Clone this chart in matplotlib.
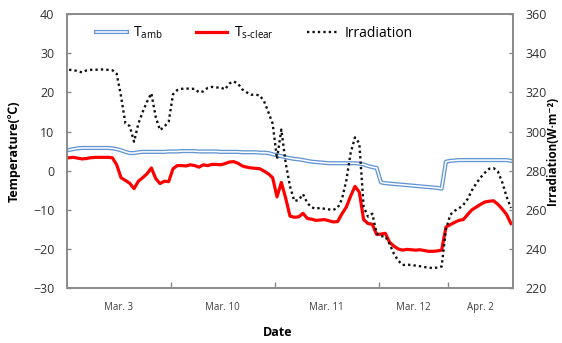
import numpy as np
import matplotlib
matplotlib.use("Agg")
import matplotlib.pyplot as plt
from matplotlib.lines import Line2D

plt.rcParams['font.family'] = ['Open Sans', 'Noto Sans CJK KR', 'DejaVu Sans']

# Day groups on the category axis and the number of samples in each
days = ["Mar. 3", "Mar. 10", "Mar. 11", "Mar. 12", "Apr. 2"]
samples_per_day = [24, 24, 24, 16, 15]

# Ambient temperature (°C)
t_amb = [
    5.3, 5.5, 5.7, 5.8, 5.8, 5.8, 5.8, 5.8, 5.8, 5.8, 5.7, 5.5, 5.2, 4.8, 4.5, 4.5,
    4.7, 4.8, 4.8, 4.8, 4.8, 4.8, 4.8, 4.9,
    4.9, 4.9, 5.0, 5.0, 5.0, 5.0, 4.9, 4.9, 4.9, 4.9, 4.9, 4.8, 4.8, 4.8, 4.8, 4.8,
    4.7, 4.7, 4.7, 4.7, 4.6, 4.6, 4.5, 4.2,
    3.9, 3.7, 3.4, 3.2, 3.0, 2.9, 2.7, 2.5, 2.3, 2.2, 2.1, 2.0, 1.9, 1.9, 1.9, 1.9,
    1.9, 1.9, 1.9, 1.8, 1.6, 1.2, 0.9, 0.7,
    -3.0, -3.2, -3.3, -3.4, -3.5, -3.6, -3.7, -3.8, -3.9, -4.0, -4.1, -4.2, -4.3, -4.4,
    -4.6, 2.3,
    2.5, 2.6, 2.7, 2.7, 2.7, 2.7, 2.7, 2.7, 2.7, 2.7, 2.7, 2.7, 2.7, 2.7, 2.5,
]

# Clear-sky surface temperature (°C)
t_s_clear = [
    3.3, 3.4, 3.2, 3.0, 3.1, 3.3, 3.4, 3.4, 3.4, 3.4, 3.3, 1.5, -1.8, -2.5, -3.2, -4.6,
    -2.7, -1.8, -0.8, 0.7, -2.0, -3.3, -2.7, -2.8,
    0.5, 1.3, 1.3, 1.2, 1.5, 1.3, 0.9, 1.5, 1.3, 1.6, 1.6, 1.5, 1.8, 2.2, 2.3, 1.9,
    1.2, 0.9, 0.7, 0.6, 0.5, -0.1, -0.8, -1.8,
    -6.7, -3.0, -7.0, -11.6, -11.9, -11.8, -10.9, -12.2, -12.4, -12.7, -12.6, -12.5,
    -12.8, -13.1, -13.0, -11.0, -9.3, -6.5, -4.0, -5.5, -12.5, -13.5, -13.7, -16.3,
    -16.2, -16.0, -18.3, -19.3, -20.0, -20.3, -20.1, -20.2, -20.3, -20.2, -20.4, -20.6,
    -20.6, -20.5, -20.3, -14.4,
    -13.8, -13.2, -12.7, -12.5, -11.2, -10.0, -9.3, -8.6, -8.0, -7.8, -7.7, -8.6,
    -9.8, -11.2, -13.5,
]

# Solar irradiation (W·m-2)
irradiation = [
    331.5, 331.4, 330.8, 330.2, 331.2, 331.5, 331.5, 331.7, 331.7, 331.5, 331.3, 329.5,
    318.0, 304.2, 302.8, 294.8, 304.0, 310.0, 315.2, 319.5, 307.5, 300.7, 302.5, 305.0,
    319.0, 321.2, 321.8, 322.0, 321.8, 321.8, 320.0, 320.5, 322.3, 322.8, 322.5, 322.5,
    321.5, 324.5, 325.6, 324.4, 321.5, 320.0, 318.8, 318.8, 318.5, 315.5, 310.0, 304.0,
    286.0, 301.0, 284.0, 272.0, 264.5, 265.0, 268.0, 263.5, 261.2, 260.6, 261.0, 260.5,
    260.2, 260.0, 261.0, 265.5, 275.0, 289.0, 297.0, 294.0, 261.6, 256.5, 258.0, 248.0,
    246.5, 246.5, 242.5, 237.5, 234.0, 231.8, 232.0, 231.8, 231.5, 231.2, 230.8, 230.5,
    230.2, 230.5, 231.0, 250.0,
    257.5, 259.5, 260.7, 262.5, 265.5, 270.0, 273.5, 276.5, 279.0, 281.0, 281.3, 279.5,
    274.0, 266.7, 261.0,
]

x = np.arange(len(t_amb))
bounds = np.cumsum(samples_per_day)
centers = bounds - np.array(samples_per_day) / 2.0 - 0.5

fig = plt.figure(figsize=(5.62, 3.43), dpi=100)
ax = fig.add_axes([0.119, 0.160, 0.794, 0.799])
ax2 = ax.twinx()

amb_color = '#6396D2'
# double-line look for the ambient temperature trace
ax.plot(x, t_amb, color=amb_color, lw=3.0, solid_joinstyle='round', zorder=3)
ax.plot(x, t_amb, color='white', lw=1.1, solid_joinstyle='round', zorder=4)
ax.plot(x, t_s_clear, color='#FF0000', lw=2.3, solid_joinstyle='round', zorder=5)
ax2.plot(x, irradiation, color='#111111', lw=1.7, linestyle=(0, (1, 1.3)), zorder=6)

ax.set_xlim(-0.5, len(x) - 0.5)
ax.set_ylim(-30, 40)
ax.set_yticks(np.arange(-30, 41, 10))
ax2.set_ylim(220, 360)
ax2.set_yticks(np.arange(220, 361, 20))

# day separators as major ticks, day names centred as minor labels
ax.set_xticks(bounds[:-1] - 0.5)
ax.set_xticklabels([])
ax.set_xticks(centers, minor=True)
ax.set_xticklabels(days, minor=True)
ax.tick_params(axis='x', which='major', direction='in', length=4, width=1, color='#8a8a8a')
ax.tick_params(axis='x', which='minor', length=0, pad=10, labelsize=7, labelcolor='#404040')
ax.tick_params(axis='y', direction='in', length=3, width=1, color='#8a8a8a',
               labelsize=9, labelcolor='#333333', pad=9)
ax2.tick_params(axis='y', direction='in', length=3, width=1, color='#8a8a8a',
                labelsize=9, labelcolor='#333333', pad=9)

for a in (ax, ax2):
    for s in a.spines.values():
        s.set_color('#8a8a8a')
        s.set_linewidth(1.2)

ax.set_ylabel('Temperature(℃)', fontsize=9, fontweight='bold')
ax.yaxis.set_label_coords(-0.103, 0.5)
ax2.set_ylabel('Irradiation(W·m⁻²)', fontsize=8.5, fontweight='bold', rotation=90)
ax2.yaxis.set_label_coords(1.0735, 0.5)
ax.set_xlabel('Date', fontsize=9, fontweight='bold')
ax.xaxis.set_label_coords(0.473, -0.14)

h_amb = (Line2D([], [], color=amb_color, lw=3.0), Line2D([], [], color='white', lw=1.1))
h_s = Line2D([], [], color='#FF0000', lw=2.3)
h_irr = Line2D([], [], color='#111111', lw=1.7, linestyle=(0, (1, 1.3)))
ax2.legend([h_amb, h_s, h_irr],
           [r'T$_{\mathregular{amb}}$', r'T$_{\mathregular{s\text{-}clear}}$', 'Irradiation'],
           loc='center', bbox_to_anchor=(0.42, 0.93), ncol=3, frameon=False,
           fontsize=10, handlelength=2.2, columnspacing=2.4, handletextpad=0.5)

fig.savefig('out.png', dpi=100)
